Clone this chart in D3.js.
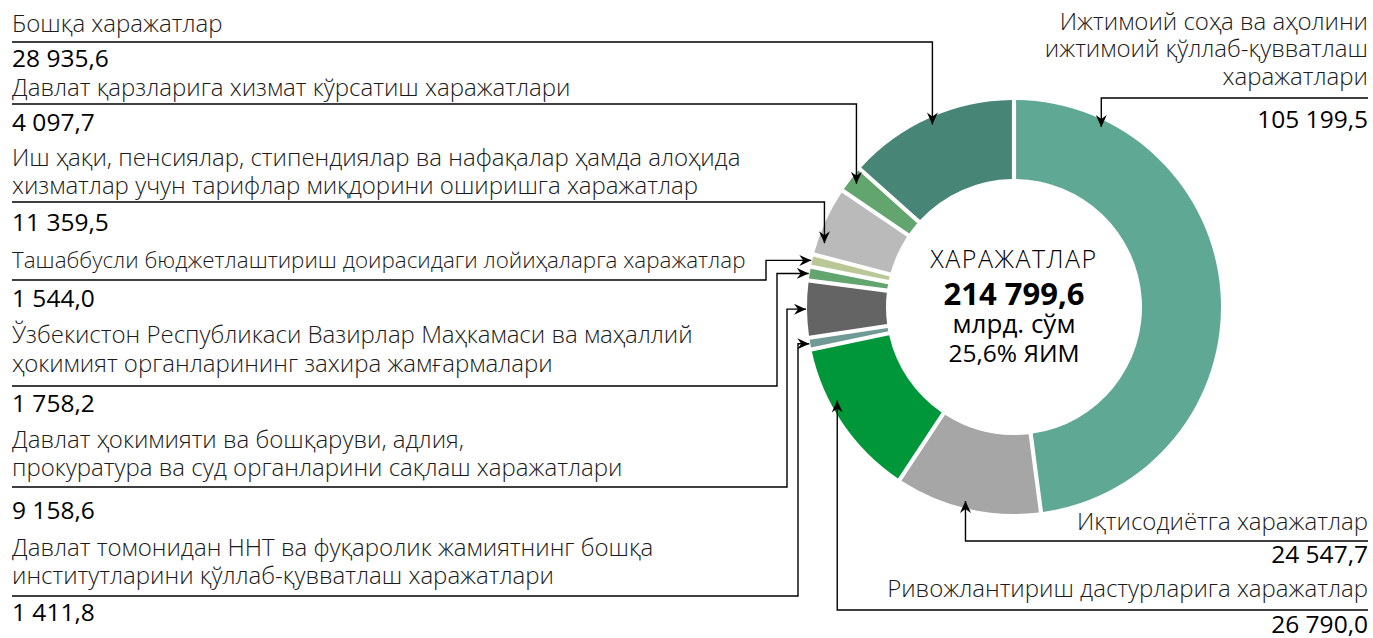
<!DOCTYPE html>
<html>
<head>
<meta charset="utf-8">
<script src="https://cdn.jsdelivr.net/npm/d3@7"></script>
<style>
  body { margin: 0; background: #fff; }
  svg { display: block; font-family: "Open Sans", "Noto Sans", sans-serif; }
</style>
</head>
<body>
<svg id="chart" width="1373" height="638"></svg>
<script>
// харажатлар таркиби (млрд. сўм), соат милига қараб тепадан
var categories = [
  ["Ижтимоий соҳа ва аҳолини", "ижтимоий қўллаб-қувватлаш", "харажатлари"],
  ["Иқтисодиётга харажатлар"],
  ["Ривожлантириш дастурларига харажатлар"],
  ["Давлат томонидан ННТ ва фуқаролик жамиятнинг бошқа", "институтларини қўллаб-қувватлаш харажатлари"],
  ["Давлат ҳокимияти ва бошқаруви, адлия,", "прокуратура ва суд органларини сақлаш харажатлари"],
  ["Ўзбекистон Республикаси Вазирлар Маҳкамаси ва маҳаллий", "ҳокимият органларининг захира жамғармалари"],
  ["Ташаббусли бюджетлаштириш доирасидаги лойиҳаларга харажатлар"],
  ["Иш ҳақи, пенсиялар, стипендиялар ва нафақалар ҳамда алоҳида", "хизматлар учун тарифлар миқдорини оширишга харажатлар"],
  ["Давлат қарзларига хизмат кўрсатиш харажатлари"],
  ["Бошқа харажатлар"]
];
var values = [105199.5, 24547.7, 26790.0, 1411.8, 9158.6, 1758.2, 1544.0, 11359.5, 4097.7, 28935.6];
var colors = ["#5fa893", "#a6a6a6", "#00973a", "#6f9a95", "#646464", "#62a56e", "#bac897", "#bababa", "#62a56e", "#478576"];

var centerLines = ["ХАРАЖАТЛАР", "214 799,6", "млрд. сўм", "25,6% ЯИМ"];

var svg = d3.select("#chart");
var cx = 1014, cy = 307, rOut = 207, rIn = 128;

var fmt = d3.formatLocale({decimal: ",", thousands: " ", grouping: [3], currency: ["", ""]}).format(",.1f");

var pie = d3.pie().sort(null).value(function(d){ return d; }).padAngle(0.017);
var arcs = pie(values);
var arc = d3.arc().innerRadius(rIn).outerRadius(rOut);

var g = svg.append("g").attr("transform", "translate(" + cx + "," + cy + ")");
g.selectAll("path")
  .data(arcs)
  .enter()
  .append("path")
  .attr("d", arc)
  .attr("fill", function(d, i){ return colors[i]; });

// марказдаги ёзув
var ct = g.append("text").attr("text-anchor", "middle").attr("fill", "#000");
ct.append("tspan").attr("x", 0).attr("y", -39).attr("font-size", 25).attr("font-weight", 300)
  .attr("letter-spacing", 1.5).text(centerLines[0]);
ct.append("tspan").attr("x", 0).attr("y", -2).attr("font-size", 31).attr("font-weight", 700).text(centerLines[1]);
ct.append("tspan").attr("x", 0).attr("y", 26).attr("font-size", 26).text(centerLines[2]);
ct.append("tspan").attr("x", 0).attr("y", 55).attr("font-size", 24.5).text(centerLines[3]);

// arrow marker
svg.append("defs").append("marker")
  .attr("id", "arr")
  .attr("viewBox", "-12 -6 12 12")
  .attr("refX", 0).attr("refY", 0)
  .attr("markerWidth", 12).attr("markerHeight", 12)
  .attr("markerUnits", "userSpaceOnUse")
  .attr("orient", "auto")
  .append("path")
  .attr("d", "M0,0 L-12,-5.5 L-8,0 L-12,5.5 Z")
  .attr("fill", "#000");

function pointAt(a, r) {
  return [cx + r * Math.sin(a), cy - r * Math.cos(a)];
}
function angleOf(i, f) {
  var d = arcs[i];
  return d.startAngle + (d.endAngle - d.startAngle) * f;
}

// label layout: side, text baselines, underline y, number y, pointer
var layout = [
  {i: 9, side: "L", lines: [32], line: 42, num: 67, kind: "down", f: 0.5},
  {i: 8, side: "L", lines: [96], line: 104, num: 131, kind: "down", f: 0.5},
  {i: 7, side: "L", lines: [166, 194], line: 202, num: 231, kind: "down", f: 0.2},
  {i: 6, side: "L", lines: [268], line: 280, num: 307, kind: "side", ex: 766},
  {i: 5, side: "L", lines: [343, 372], line: 386, num: 412, kind: "side", ex: 777},
  {i: 4, side: "L", lines: [448, 476], line: 487, num: 519, kind: "side", ex: 787},
  {i: 3, side: "L", lines: [556, 584], line: 596, num: 621, kind: "side", ex: 798},
  {i: 0, side: "R", lines: [30, 57, 85], line: 98, num: 128, kind: "down", f: 0.15},
  {i: 1, side: "R", lines: [530], line: 541, num: 563, kind: "up", f: 0.525},
  {i: 2, side: "R", lines: [597], line: 610, num: 633, kind: "up", f: 0.64}
];

var xL = 12, xR = 1368;

layout.forEach(function(L) {
  var x0 = L.side === "L" ? xL : xR;
  var pts, bendX;
  if (L.kind === "side") {
    var a = (arcs[L.i].startAngle + arcs[L.i].endAngle) / 2;
    var tip = pointAt(a, rOut + 1);
    pts = [[x0, L.line], [L.ex, L.line], [L.ex, tip[1]], tip];
    bendX = L.ex;
  } else {
    var tip2 = pointAt(angleOf(L.i, L.f), rOut - 7);
    pts = [[x0, L.line], [tip2[0], L.line], tip2];
    bendX = tip2[0];
  }
  svg.append("path")
    .attr("d", d3.line()(pts))
    .attr("fill", "none")
    .attr("stroke", "#000")
    .attr("stroke-width", 1.4)
    .attr("marker-end", "url(#arr)");

  var anchor = L.side === "L" ? "start" : "end";
  var t = svg.append("text")
    .attr("text-anchor", anchor)
    .attr("font-size", 24)
    .attr("font-weight", 300)
    .attr("fill", "#1a1a1a");
  categories[L.i].forEach(function(s, k) {
    t.append("tspan").attr("x", x0).attr("y", L.lines[k]).text(s);
  });
  // label must stay clear of its connector
  if (L.side === "L") {
    var room = bendX - 20 - xL;
    var w = t.node().getComputedTextLength ? t.node().getBBox().width : 0;
    if (w > room) t.attr("font-size", 24 * room / w);
  }
  svg.append("text")
    .attr("x", x0)
    .attr("y", L.num)
    .attr("text-anchor", anchor)
    .attr("font-size", 24.5)
    .attr("fill", "#000")
    .text(fmt(values[L.i]));
});
</script>
</body>
</html>
